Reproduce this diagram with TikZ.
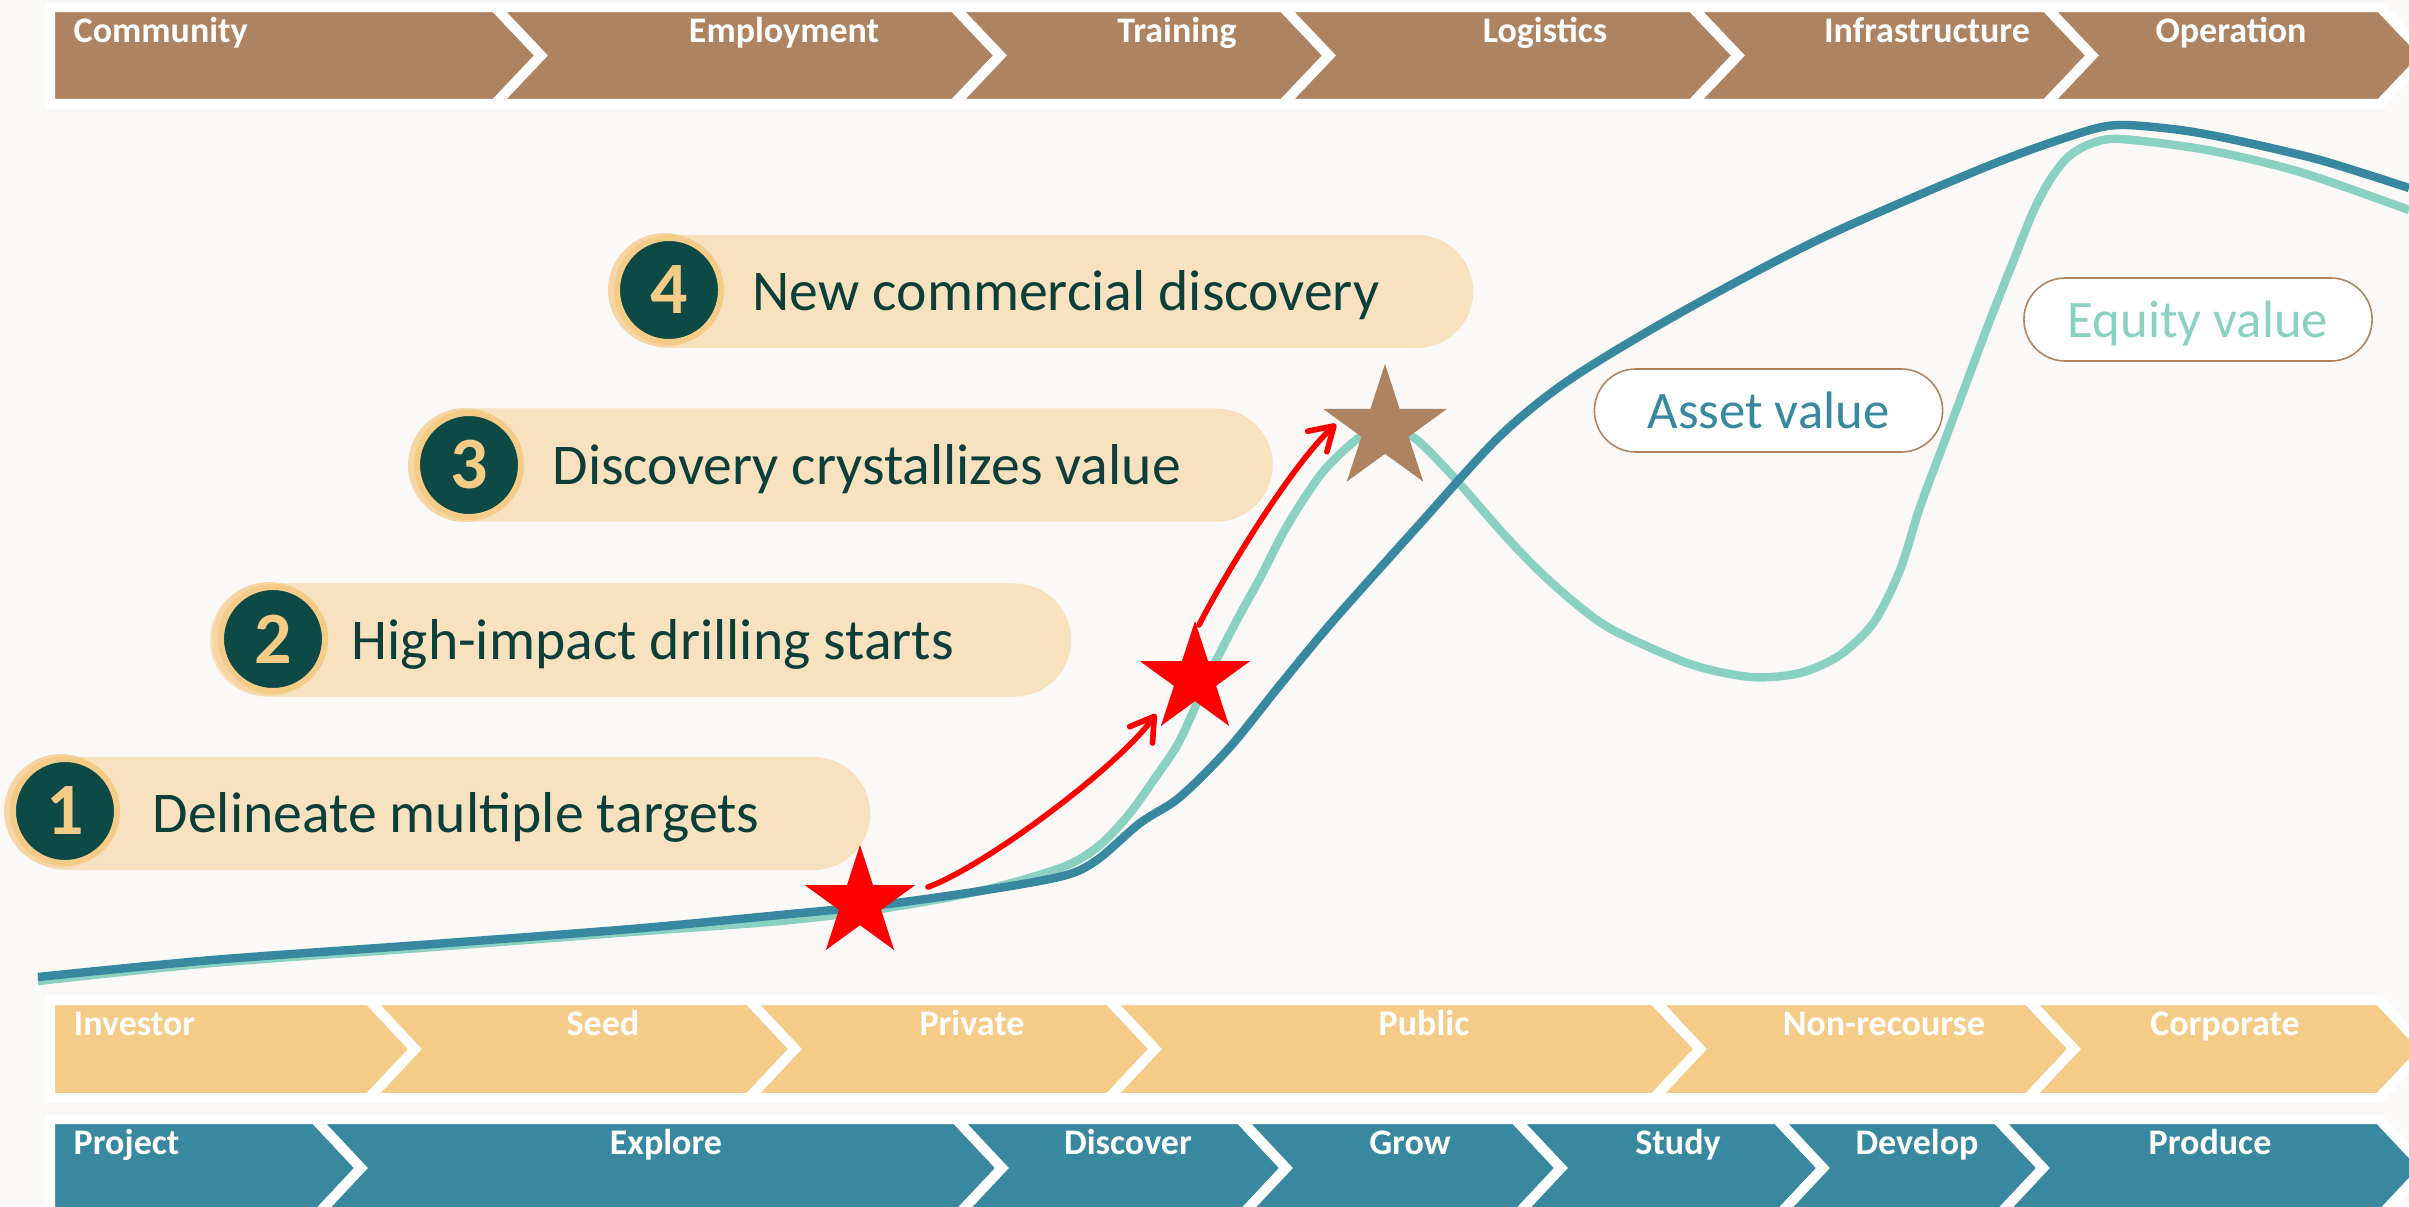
\documentclass[tikz,border=0pt]{standalone}
\usepackage{fontspec}
\setmainfont{Carlito}
\usetikzlibrary{shapes.geometric,arrows.meta}
\definecolor{bgc}{HTML}{FAF9F7}
\definecolor{brownc}{HTML}{AE8361}
\definecolor{yellowc}{HTML}{F4CB87}
\definecolor{tealc}{HTML}{38899F}
\definecolor{lteal}{HTML}{8BD1C2}
\definecolor{pillfill}{HTML}{F8E1BF}
\definecolor{pillshade}{HTML}{F6D6A6}
\definecolor{darkc}{HTML}{0D4A45}
\definecolor{darktext}{HTML}{0C3F3A}
\definecolor{starred}{HTML}{FF0000}
\newcommand{\chevA}[5]{\filldraw[fill=#5, draw=white, line width=0.1cm] (#1,#3) -- (#2,#3) -- ({#2+46},{(#3+#4)/2}) -- (#2,#4) -- (#1,#4) -- cycle;}
\newcommand{\chevB}[5]{\filldraw[fill=#5, draw=white, line width=0.1cm] (#1,#3) -- (#2,#3) -- ({#2+46},{(#3+#4)/2}) -- (#2,#4) -- (#1,#4) -- ({#1+46},{(#3+#4)/2}) -- cycle;}
\begin{document}
\begin{tikzpicture}[x=0.01cm, y=-0.01cm,
  barlabel/.style={text=white, font=\fontsize{10.24}{12}\selectfont\bfseries, inner sep=0},
  pillbox/.style={rectangle, rounded corners=0.565cm, minimum width=8.61cm, minimum height=1.13cm, fill=pillfill, inner sep=0},
  numcirc/.style={circle, minimum size=1.04cm, fill=darkc, draw=yellowc, line width=0.06cm, inner sep=0, text=yellowc, font=\fontsize{21}{24}\selectfont\bfseries},
  pilltext/.style={anchor=base west, inner sep=0, text=darktext, font=\fontsize{16.4}{20}\selectfont},
  valbox/.style={rectangle, rounded corners=0.415cm, minimum width=3.48cm, minimum height=0.83cm, fill=white, draw=brownc, line width=0.45pt, inner sep=0, font=\fontsize{15}{18}\selectfont, text depth=0pt},
  redstar/.style={star, star points=5, star point ratio=2.618, inner sep=0, fill=starred, minimum size=1.16cm},
  redarrow/.style={draw=starred, line width=1.6pt, line cap=round, -{Straight Barb[length=6.5pt,width=8pt,line cap=round,line join=round]}},
  curve/.style={line width=2.4pt, line join=round}
]
\fill[bgc] (0,0) rectangle (2409,1206);
\useasboundingbox (0,0) rectangle (2409,1206);
\clip (0,0) rectangle (2409,1206);

% top bar
\chevA{50}{495}{7}{104}{brownc}
\chevB{495}{954}{7}{104}{brownc}
\chevB{954}{1283}{7}{104}{brownc}
\chevB{1283}{1692}{7}{104}{brownc}
\chevB{1692}{2046}{7}{104}{brownc}
\chevB{2046}{2380}{7}{104}{brownc}
\node[barlabel, anchor=base west] (tb1) at (73,42) {Community};
\node[barlabel, anchor=base] (tb2) at (784,42) {Employment};
\node[barlabel, anchor=base] (tb3) at (1177,42) {Training};
\node[barlabel, anchor=base] (tb4) at (1545,42) {Logistics};
\node[barlabel, anchor=base] (tb5) at (1927,42) {Infrastructure};
\node[barlabel, anchor=base] (tb6) at (2231,42) {Operation};

% middle bar
\chevA{50}{369}{1000}{1098}{yellowc}
\chevB{369}{749}{1000}{1098}{yellowc}
\chevB{749}{1109}{1000}{1098}{yellowc}
\chevB{1109}{1654}{1000}{1098}{yellowc}
\chevB{1654}{2028}{1000}{1098}{yellowc}
\chevB{2028}{2379}{1000}{1098}{yellowc}
\node[barlabel, anchor=base west] (mb1) at (73,1035) {Investor};
\node[barlabel, anchor=base] (mb2) at (603,1035) {Seed};
\node[barlabel, anchor=base] (mb3) at (972,1035) {Private};
\node[barlabel, anchor=base] (mb4) at (1424,1035) {Public};
\node[barlabel, anchor=base] (mb5) at (1884,1035) {Non-recourse};
\node[barlabel, anchor=base] (mb6) at (2225,1035) {Corporate};

% bottom bar
\chevA{50}{315}{1119}{1217}{tealc}
\chevB{315}{956}{1119}{1217}{tealc}
\chevB{956}{1240}{1119}{1217}{tealc}
\chevB{1240}{1515}{1119}{1217}{tealc}
\chevB{1515}{1777}{1119}{1217}{tealc}
\chevB{1777}{1997}{1119}{1217}{tealc}
\chevB{1997}{2379}{1119}{1217}{tealc}
\node[barlabel, anchor=base west] (bb1) at (73,1154) {Project};
\node[barlabel, anchor=base] (bb2) at (666,1154) {Explore};
\node[barlabel, anchor=base] (bb3) at (1128,1154) {Discover};
\node[barlabel, anchor=base] (bb4) at (1410,1154) {Grow};
\node[barlabel, anchor=base] (bb5) at (1678,1154) {Study};
\node[barlabel, anchor=base] (bb6) at (1917,1154) {Develop};
\node[barlabel, anchor=base] (bb7) at (2210,1154) {Produce};

% pills
\node[pillbox] (p1) at (439.5,813.5) {};
\node[pillbox] (p2) at (640.5,640) {};
\node[pillbox] (p3) at (842,465) {};
\node[pillbox] (p4) at (1042.5,291.5) {};
\fill[pillshade] (61,811) circle (57);
\fill[pillshade] (269,639) circle (57);
\fill[pillshade] (465,465) circle (57);
\fill[pillshade] (665,290) circle (57);
\node[numcirc] (c1) at (65,811) {1};
\node[numcirc] (c2) at (273,639) {2};
\node[numcirc] (c3) at (469,465) {3};
\node[numcirc] (c4) at (669,290) {4};
\node[pilltext] (t1) at (152,832.5) {Delineate multiple targets};
\node[pilltext] (t2) at (351,659) {High-impact drilling starts};
\node[pilltext] (t3) at (552,484) {Discovery crystallizes value};
\node[pilltext] (t4) at (752,310.5) {New commercial discovery};

% curves
\draw[curve, lteal] plot[smooth, tension=0.5] coordinates {(38,981) (212,963) (420,948) (631,932) (780,921) (880,909) (980,891) (1063,867) (1100,845) (1130,813) (1155,778) (1180,740) (1213,667) (1237,620) (1260,578) (1283,533) (1305,497) (1327,467) (1360,437) (1385,430) (1413,437) (1450,473) (1500,530) (1536,568) (1575,603) (1613,630) (1690,664) (1751,677) (1800,673) (1840,655) (1874,622) (1900,570) (1920,507) (1945,440) (1966,384) (1990,320) (2013,262) (2033,212) (2050,180) (2068,157) (2090,144) (2120,139) (2207,150) (2300,172) (2409,210)};
\draw[curve, tealc] plot[smooth, tension=0.5] coordinates {(38,977) (212,960) (420,945) (631,929) (780,915) (880,905) (980,891) (1063,876) (1097,860) (1140,823) (1180,797) (1230,747) (1280,685) (1333,621) (1417,527) (1500,436) (1572,378) (1687,309) (1824,237) (1988,166) (2080,133) (2120,125) (2180,130) (2235,140) (2320,160) (2409,188)};

% value labels
\node[valbox, text=tealc] (av) at (1768.5,410.5) {Asset value};
\node[valbox, text=lteal] (ev) at (2198,319.5) {Equity value};

% arrows
\coordinate (a1s) at (928,887);
\coordinate (a1e) at (1156,714);
\coordinate (a2s) at (1199,625);
\coordinate (a2e) at (1336,424);
\draw[redarrow] (a1s) .. controls (984,867) and (1118,767) .. (a1e);
\draw[redarrow] (a2s) .. controls (1226,572) and (1292,465) .. (a2e);

% stars
\node[redstar] (s1) at (860,903) {};
\node[redstar] (s2) at (1195,679) {};
\node[redstar, fill=brownc, minimum size=1.3cm] (s3) at (1385,429) {};
\end{tikzpicture}
\end{document}
